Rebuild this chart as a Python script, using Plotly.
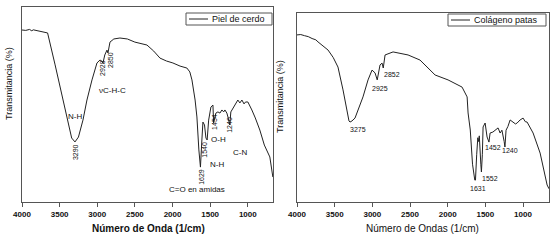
import plotly.graph_objects as go

W, H = 553, 240

# ---- data: left panel (Piel de cerdo) ----
wn_piel = [4000, 3950, 3900, 3870, 3850, 3800, 3750, 3700, 3660, 3560, 3470, 3400, 3340, 3296,
           3250, 3190, 3137, 3070, 3004, 2964, 2940, 2924, 2900, 2871, 2858, 2831, 2780, 2699,
           2600, 2500, 2400, 2340, 2250, 2167, 2080, 1995, 1900, 1809, 1770, 1742, 1700, 1676,
           1650, 1629, 1610, 1596, 1575, 1556, 1540, 1520, 1490, 1463, 1454, 1435, 1424, 1397,
           1370, 1344, 1320, 1304, 1278, 1260, 1240, 1225, 1198, 1160, 1132, 1105, 1078, 1050,
           1030, 999, 960, 946, 900, 840, 780, 707, 667]
t_piel = [88.2, 88.0, 88.5, 87.8, 88.3, 87.9, 87.5, 87.0, 86.7, 70.3, 54.9, 44.6, 32.8, 30.8,
          33.3, 42.0, 52.3, 62.6, 71.3, 72.8, 72.3, 71.3, 75.4, 77.9, 76.4, 82.0, 83.6, 84.1,
          83.6, 82.0, 81.0, 80.5, 77.4, 73.8, 72.3, 71.3, 69.7, 68.7, 66.7, 62.6, 52.3, 43.6,
          26.7, 17.9, 31.8, 41.0, 39.5, 32.8, 31.8, 42.0, 48.7, 49.7, 40.5, 44.6, 45.6, 46.2,
          45.6, 47.2, 46.2, 47.2, 45.6, 43.1, 39.5, 46.2, 48.2, 50.3, 52.3, 50.8, 52.3, 50.3,
          51.3, 51.3, 48.7, 47.2, 43.1, 36.9, 29.2, 23.1, 12.8]

# ---- data: right panel (Colágeno patas) ----
wn_col = [4000, 3950, 3900, 3850, 3800, 3750, 3721, 3650, 3588, 3520, 3456, 3389, 3336, 3310,
          3296, 3270, 3230, 3190, 3124, 3057, 3004, 2964, 2935, 2898, 2871, 2855, 2831, 2725,
          2526, 2367, 2167, 1995, 1809, 1742, 1729, 1700, 1670, 1640, 1631, 1615, 1600, 1590,
          1580, 1560, 1552, 1540, 1530, 1503, 1477, 1452, 1437, 1400, 1371, 1331, 1304, 1280,
          1250, 1240, 1225, 1200, 1171, 1131, 1100, 1078, 1039, 999, 970, 946, 866, 773, 680, 655]
t_col = [88.4, 88.6, 88.0, 87.5, 86.5, 85.8, 84.7, 82.5, 80.4, 76.5, 71.4, 59.3, 48.7, 42.9,
         42.3, 42.9, 44.4, 48.7, 55.6, 64.6, 69.8, 68.3, 64.6, 72.5, 73.5, 70.9, 77.8, 79.4,
         77.8, 75.1, 67.2, 64.6, 60.8, 55.6, 47.1, 38.1, 20.0, 11.6, 11.6, 25.0, 34.0, 32.0,
         35.0, 20.0, 15.9, 25.0, 39.7, 41.8, 34.4, 31.7, 36.5, 37.0, 38.1, 39.2, 36.5, 38.0,
         32.0, 29.1, 38.0, 40.0, 43.4, 42.3, 41.3, 41.8, 43.4, 44.4, 42.5, 42.3, 36.5, 25.9, 9.0, 7.0]

xticks = [4000, 3500, 3000, 2500, 2000, 1500, 1000]

# peak labels: (text, wavenumber, value, rotated)
labels_piel = [("2928", 2938, 68.7, True), ("2850", 2832, 72.8, True), ("νC-H-C", 2792, 57.4, False),
               ("N-H", 3296, 43.6, False), ("3290", 3296, 25.6, True), ("1629", 1624, 12.8, True),
               ("1540", 1571, 26.7, True), ("1454", 1451, 41.0, True), ("O-H", 1385, 31.8, False),
               ("1240", 1239, 39.5, True), ("C-N", 1106, 25.6, False), ("N-H", 1411, 19.0, False),
               ("C=O en amidas", 1677, 6.2, False)]
labels_col = [("2925", 2898, 60.3), ("2852", 2739, 67.7), ("3275", 3190, 38.1), ("1631", 1597, 7.4),
              ("1552", 1438, 12.2), ("1452", 1398, 29.1), ("1240", 1172, 27.5)]

FONT = "Liberation Sans, Arial, sans-serif"
LINE = "#222222"
AX = "#555555"

def px(x):
    return x / W

def py(y):
    return 1 - y / H

fig = go.Figure()
fig.add_trace(go.Scatter(x=wn_piel, y=t_piel, mode="lines", line=dict(color=LINE, width=1),
                         xaxis="x", yaxis="y", showlegend=False, hoverinfo="skip"))
fig.add_trace(go.Scatter(x=wn_col, y=t_col, mode="lines", line=dict(color=LINE, width=1),
                         xaxis="x2", yaxis="y2", showlegend=False, hoverinfo="skip"))

axis_common = dict(showline=True, linecolor=AX, linewidth=1, mirror=True, showgrid=False,
                   zeroline=False, automargin=False)
fig.update_layout(
    template="none",
    width=W, height=H, margin=dict(l=0, r=0, t=0, b=0, pad=0),
    paper_bgcolor="white", plot_bgcolor="white", showlegend=False,
    font=dict(family=FONT, color="#111"),
    xaxis=dict(domain=[px(22), px(273)], range=[4000, 665], tickvals=xticks, ticks="outside",
               ticklen=4, tickcolor=AX, tickfont=dict(size=8, family=FONT, weight="bold"),
               anchor="y", **axis_common),
    yaxis=dict(domain=[py(202), py(7)], range=[0, 100], showticklabels=False, ticks="",
               anchor="x", **axis_common),
    xaxis2=dict(domain=[px(297), px(549)], range=[4000, 655], tickvals=xticks, ticks="outside",
                ticklen=4, tickcolor=AX, tickfont=dict(size=8, family=FONT, weight="bold"),
                anchor="y2", **axis_common),
    yaxis2=dict(domain=[py(202), py(13)], range=[0, 100], showticklabels=False, ticks="",
                anchor="x2", **axis_common),
)

ann = []
for t, x, y, rot in labels_piel:
    ann.append(dict(x=x, y=y, xref="x", yref="y", text=t, showarrow=False,
                    xanchor="center", yanchor="middle",
                    textangle=-90 if rot else 0, font=dict(size=7 if rot else 8, family=FONT)))
for t, x, y in labels_col:
    ann.append(dict(x=x, y=y, xref="x2", yref="y2", text=t, showarrow=False,
                    xanchor="center", yanchor="middle", font=dict(size=7, family=FONT)))

def paper_text(x, y, text, size, angle=0):
    ann.append(dict(x=px(x), y=py(y), xref="paper", yref="paper", text=text, showarrow=False,
                    xanchor="center", yanchor="middle", textangle=angle,
                    font=dict(size=size, family=FONT)))

# axis titles
paper_text(148, 228, "<b>Número de Onda (1/cm)</b>", 10)
paper_text(422, 228, "Número de Ondas (1/cm)", 10)
paper_text(9, 84, "Transmitancia (%)", 9, -90)
paper_text(280, 97, "Transmitancia (%)", 9, -90)

# legend boxes (drawn)
shapes = []
def legend_box(x0, x1, y0, y1, lx0, lx1, tx, text):
    shapes.append(dict(type="rect", xref="paper", yref="paper", x0=px(x0), x1=px(x1), y0=py(y1),
                       y1=py(y0), line=dict(color=AX, width=1), fillcolor="white"))
    ym = (y0 + y1) / 2
    shapes.append(dict(type="line", xref="paper", yref="paper", x0=px(lx0), x1=px(lx1), y0=py(ym),
                       y1=py(ym), line=dict(color=LINE, width=1)))
    ann.append(dict(x=px(tx), y=py(ym), xref="paper", yref="paper", text=text, showarrow=False,
                    xanchor="left", yanchor="middle", font=dict(size=9, family=FONT)))

legend_box(186, 272, 13, 25, 189, 208, 210, "Piel de cerdo")
legend_box(448, 546, 14, 26, 451, 470, 472, "Colágeno patas")

fig.update_layout(annotations=ann, shapes=shapes)
fig.write_html("out.html", config={"displayModeBar": False},
               post_script="document.body.style.margin='0';document.body.style.padding='0';")
